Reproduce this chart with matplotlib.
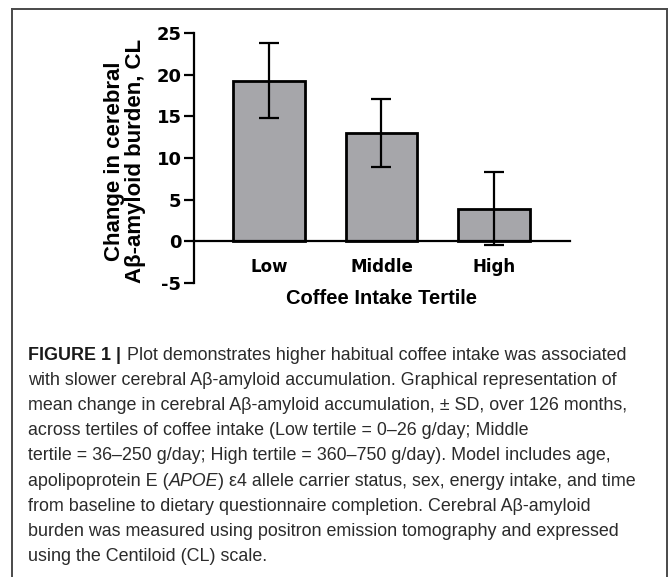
import matplotlib
matplotlib.use("Agg")
import matplotlib.pyplot as plt
from matplotlib.lines import Line2D

# data
tertiles = ["Low", "Middle", "High"]
mean_change = [19.3, 13.0, 3.9]
sd_change = [4.5, 4.1, 4.4]
y_ticks = [-5, 0, 5, 10, 15, 20, 25]
y_tick_labels = ["-5", "0", "5", "10", "15", "20", "25"]

caption_lines = [
    [("FIGURE 1 |", "bold"), ("Plot demonstrates higher habitual coffee intake was associated", "normal")],
    [("with slower cerebral Aβ-amyloid accumulation. Graphical representation of", "normal")],
    [("mean change in cerebral Aβ-amyloid accumulation, ± SD, over 126 months,", "normal")],
    [("across tertiles of coffee intake (Low tertile = 0–26 g/day; Middle", "normal")],
    [("tertile = 36–250 g/day; High tertile = 360–750 g/day). Model includes age,", "normal")],
    [("apolipoprotein E (", "normal"), ("APOE", "italic"), (") ε4 allele carrier status, sex, energy intake, and time", "normal")],
    [("from baseline to dietary questionnaire completion. Cerebral Aβ-amyloid", "normal")],
    [("burden was measured using positron emission tomography and expressed", "normal")],
    [("using the Centiloid (CL) scale.", "normal")],
]

W, H = 670, 577
plt.rcParams["font.family"] = ["Liberation Sans", "DejaVu Sans"]

fig = plt.figure(figsize=(W / 100, H / 100), dpi=100)
fig.patch.set_facecolor("white")

# outer frame (open at the bottom)
frame_kw = dict(color="#4a4a4a", lw=1.4, transform=fig.transFigure)
fig.add_artist(Line2D([11.5 / W, 667 / W], [1 - 8.5 / H, 1 - 8.5 / H], **frame_kw))
fig.add_artist(Line2D([11.5 / W, 11.5 / W], [1 - 8.5 / H, 0], **frame_kw))
fig.add_artist(Line2D([667 / W, 667 / W], [1 - 8.5 / H, 0], **frame_kw))

# axes placement in pixels
ax_left, ax_right = 194, 570
ax_top, ax_bottom = 33.3, 282.7
ax = fig.add_axes([ax_left / W, 1 - ax_bottom / H,
                   (ax_right - ax_left) / W, (ax_bottom - ax_top) / H])

x = list(range(len(tertiles)))
ax.bar(x, mean_change, width=0.64, color="#a6a6aa", edgecolor="black",
       linewidth=2.0, zorder=2)
ax.errorbar(x, mean_change, yerr=sd_change, fmt="none", ecolor="black",
            elinewidth=1.6, capsize=7.2, capthick=1.6, zorder=3)

ax.set_xlim(-0.667, 2.676)
ax.set_ylim(-5, 25)
ax.set_yticks(y_ticks)
ax.set_yticklabels(y_tick_labels)
ax.set_xticks(x)
ax.set_xticklabels(tertiles)

for side in ["top", "right"]:
    ax.spines[side].set_visible(False)
ax.spines["bottom"].set_position(("data", 0))
ax.spines["left"].set_linewidth(1.6)
ax.spines["bottom"].set_linewidth(1.6)
ax.tick_params(axis="y", length=7, width=1.6, pad=2)
ax.tick_params(axis="x", length=0, pad=12)
for lab in ax.get_xticklabels():
    lab.set_family("DejaVu Sans")
    lab.set_fontweight("bold")
    lab.set_fontsize(12)
for lab in ax.get_yticklabels():
    lab.set_family("DejaVu Sans")
    lab.set_fontweight("bold")
    lab.set_fontsize(13)
ax.patch.set_alpha(0)

fig.text(125 / W, 1 - 161 / H, "Change in cerebral\nAβ-amyloid burden, CL",
         rotation=90, ha="center", va="center", multialignment="center",
         fontsize=16, fontweight="bold", linespacing=1.02)
fig.text(381.6 / W, 1 - 298 / H, "Coffee Intake Tertile", ha="center",
         va="center", fontsize=14.5, fontweight="bold")

# caption, drawn segment by segment
renderer = fig.canvas.get_renderer()
cap_size = 12.9
cap_color = "#2b2b2b"


def text_width(s, **kw):
    t = fig.text(0, 0, s, fontsize=cap_size, **kw)
    w = t.get_window_extent(renderer).width
    t.remove()
    return w


space_w = text_width("a a") - text_width("aa")
baseline0 = 360
line_step = 25.1
for i, segs in enumerate(caption_lines):
    xpix = 28
    ypix = baseline0 + i * line_step
    for j, (s, style) in enumerate(segs):
        kw = {}
        if style == "bold":
            kw["fontweight"] = "bold"
        elif style == "italic":
            kw["fontstyle"] = "italic"
        core = s.strip(" ")
        t = fig.text(xpix / W, 1 - ypix / H, core, fontsize=cap_size,
                     color=cap_color if style != "bold" else "#1a1a1a",
                     va="baseline", ha="left", **kw)
        xpix += t.get_window_extent(renderer).width
        # space handling between segments
        if style == "bold":
            xpix += space_w * 1.2
        elif j + 1 < len(segs) and segs[j + 1][0][:1] == " ":
            xpix += space_w

fig.savefig("out.png", dpi=100)
